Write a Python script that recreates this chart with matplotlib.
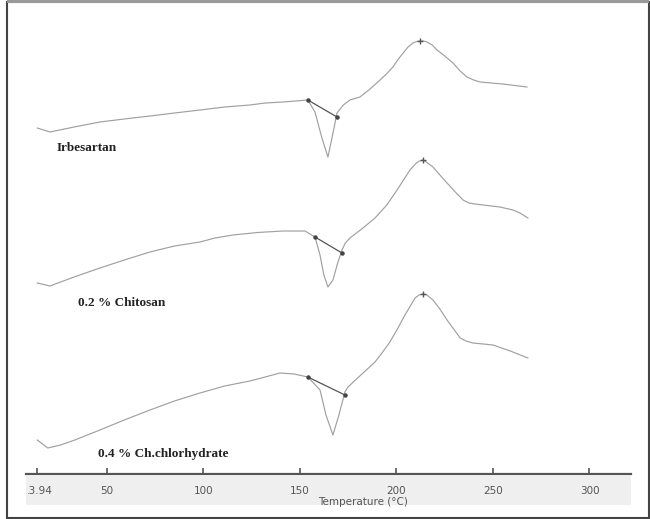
import numpy as np
import matplotlib
matplotlib.use("Agg")
import matplotlib.pyplot as plt
from matplotlib.patches import Rectangle
from matplotlib.transforms import Bbox, TransformedBbox

# DSC thermograms, heat flow in arbitrary units (endo down), stacked
samples = ["Irbesartan", "0.2 % Chitosan", "0.4 % Ch.chlorhydrate"]

temp_irb = [13.94, 20.5, 33.0, 46.4, 59.0, 72.3, 85.0, 98.2, 111.0, 124.1, 132.0,
            141.2, 154.1, 157.8, 161.4, 164.5, 166.6, 169.2, 172.5, 175.9, 181.1,
            186.3, 191.5, 194.8, 198.2, 201.0, 203.9, 206.0, 208.5, 210.4, 212.2,
            214.0, 215.8, 218.5, 221.0, 225.0, 229.3, 233.0, 236.5, 240.0, 243.3,
            255.0, 267.6]
hf_irb = [0, -4, 1, 6, 9, 12, 15, 18, 21, 23, 25, 26, 28, 16, -10, -29, -10, 15, 23,
          28, 31, 39, 48, 54, 61, 69, 76, 81, 85, 86.5, 87, 87, 86, 83, 78, 72, 65, 57,
          51, 48, 46, 44, 41]

temp_chi = [13.94, 20.5, 33.0, 46.4, 59.0, 72.3, 85.0, 98.2, 106.0, 115.3, 128.0,
            141.2, 152.6, 157.8, 160.4, 162.4, 164.5, 167.1, 169.7, 171.8, 173.5,
            175.9, 182.0, 188.9, 195.0, 200.3, 204.0, 207.0, 210.3, 212.0, 213.7,
            215.5, 218.9, 222.5, 226.2, 230.5, 234.5, 237.5, 240.7, 247.0, 253.6,
            260.4, 264.0, 268.1]
hf_chi = [0, -3, 6, 15, 23, 31, 37, 41, 45, 48, 50.5, 52, 52, 46, 28, 8, -4, 3, 21, 33,
          40, 45, 54, 65, 78, 93, 104, 113, 120, 122, 123, 121, 116, 108, 100, 91, 83,
          80, 79, 77.5, 76, 73, 70, 65]

temp_chl = [13.94, 19.4, 26.0, 33.4, 46.4, 59.0, 72.3, 85.0, 98.2, 111.0, 124.1,
            132.0, 139.6, 147.0, 154.1, 160.4, 163.5, 167.1, 170.2, 173.3, 174.9,
            181.0, 188.9, 192.5, 196.6, 200.5, 204.4, 207.5, 209.6, 211.7, 213.7,
            215.8, 218.9, 222.5, 226.2, 230.0, 233.0, 236.0, 239.6, 245.0, 250.0,
            259.0, 268.1]
hf_chl = [0, -8, -5, 0, 10, 20, 30, 39, 47, 54, 59, 63, 67, 66, 63, 50, 25, 5, 25, 48,
          53, 64, 78, 87, 98, 111, 125, 135, 142, 145, 146, 145, 140, 131, 120, 110,
          102, 99, 97, 96, 95, 89, 82]

# peak integration limits (onset / end) for the melting endotherm
onset_t = [154.1, 157.8, 154.1]
onset_hf = [28, 46, 63]
end_t = [169.2, 171.8, 173.3]
end_hf = [11, 30, 45]

offsets = [346, 191, 34]
xticks = [13.94, 50, 100, 150, 200, 250, 300]
xticklabels = ["13.94", "50", "100", "150", "200", "250", "300"]

curves = [(temp_irb, hf_irb), (temp_chi, hf_chi), (temp_chl, hf_chl)]

fig = plt.figure(figsize=(6.5, 5.19), dpi=100)
W, H = 650.0, 519.0

# grey strip behind the axis labels
fig.patches.append(Rectangle((26 / W, 1 - 505 / H), (631 - 26) / W, (505 - 476) / H,
                             transform=fig.transFigure, facecolor="#efefef",
                             edgecolor="none", zorder=-1))

ax = fig.add_axes([26 / W, 45 / H, (631 - 26) / W, 474 / H])
ax.patch.set_alpha(0)

for (t, hf), off in zip(curves, offsets):
    ax.plot(t, np.array(hf) + off, color="#a0a0a0", lw=0.85, zorder=2)

for i, off in enumerate(offsets):
    ax.plot([onset_t[i], end_t[i]], [onset_hf[i] + off, end_hf[i] + off],
            color="#555555", lw=0.9, zorder=3)
    ax.plot([onset_t[i], end_t[i]], [onset_hf[i] + off, end_hf[i] + off],
            ls="none", marker="o", ms=2.2, color="#444444", zorder=4)

# peak tops of the exotherm
for (t, hf), off in zip(curves, offsets):
    k = int(np.argmax(hf))
    ax.plot(t[k], hf[k] + off, marker="+", ms=5, color="#555555", zorder=4)

label_pos = [(24.1, 474 - 148), (35.0, 474 - 303), (45.3, 474 - 454)]
for name, (lx, ly) in zip(samples, label_pos):
    ax.text(lx, ly, name, fontsize=9.5, fontweight="bold", family="Liberation Serif",
            color="#222222", va="center", ha="left")

ax.set_xlim(8.1, 321.5)
ax.set_ylim(0, 474)
ax.set_yticks([])
for s in ["top", "right", "left"]:
    ax.spines[s].set_visible(False)
ax.spines["bottom"].set_color("#555555")
ax.spines["bottom"].set_linewidth(1.6)
ax.set_xticks(xticks)
ax.set_xticklabels(xticklabels)
ax.tick_params(axis="x", direction="in", length=4, width=1.2, color="#555555",
               labelsize=7.5, labelcolor="#555555", pad=9)

# first label gets cut by the edge of the grey strip
strip = TransformedBbox(Bbox.from_extents(28 / W, 0, 1, 1), fig.transFigure)
first = ax.get_xticklabels()[0]
first.set_clip_box(strip)
first.set_clip_on(True)

fig.text(363 / W, 1 - 502 / H, "Temperature (\u00b0C)", ha="center", va="center",
         fontsize=7.5, color="#555555")

# outer frame
fig.patches.append(Rectangle((7 / W, 1 / H), 642 / W, 516 / H, transform=fig.transFigure,
                             facecolor="none", edgecolor="#444444", lw=1.5, zorder=5))
fig.patches.append(Rectangle((7 / W, 1 - 3 / H), 642 / W, 3 / H, transform=fig.transFigure,
                             facecolor="#999999", edgecolor="none", zorder=5))

fig.savefig("out.png", dpi=100)
